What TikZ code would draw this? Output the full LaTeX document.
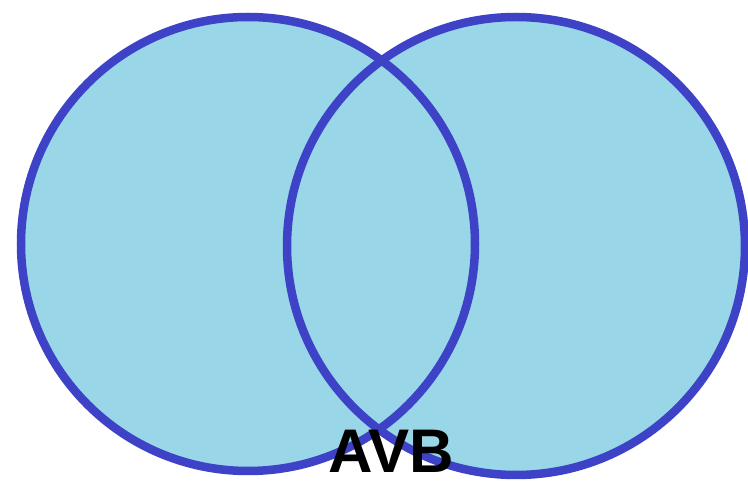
\documentclass[tikz,border=0pt]{standalone}
\usepackage{fontspec}
\setmainfont{Liberation Sans}
\definecolor{setfill}{HTML}{98D6E8}
\definecolor{setline}{HTML}{3D42C6}
\begin{document}
\begin{tikzpicture}[x=1pt,y=-1pt,
  setfillstyle/.style={fill=setfill},
  setlinestyle/.style={draw=setline,line width=8.5pt}]
\useasboundingbox (0,0) rectangle (748,486);
\fill[white] (0,0) rectangle (748,486);
\coordinate (A) at (248,244);
\coordinate (B) at (516,246);
\fill[setfillstyle] (A) circle (227);
\fill[setfillstyle] (B) circle (229);
\draw[setlinestyle] (A) circle (227);
\draw[setlinestyle] (B) circle (229);
\node[anchor=base,inner sep=0pt,font=\fontsize{61.6}{62}\selectfont\bfseries] (label) at (391,473) {AVB};
\end{tikzpicture}
\end{document}
